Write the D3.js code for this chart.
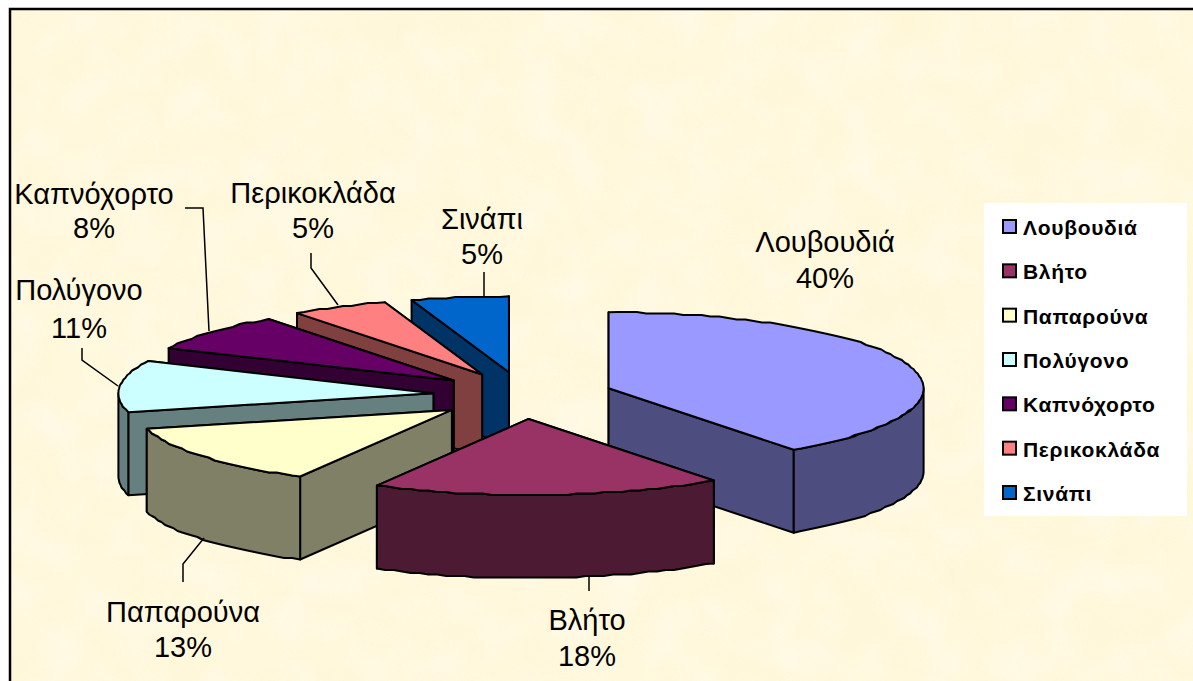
<!DOCTYPE html>
<html>
<head>
<meta charset="utf-8">
<title>Pie</title>
<style>
  html, body { margin: 0; padding: 0; background: #fff; }
  svg { display: block; }
  text { font-family: "Liberation Sans", Arial, sans-serif; fill: #000; }
</style>
<script src="https://cdn.jsdelivr.net/npm/d3@7"></script>
</head>
<body>
<script>
var categories = ["Λουβουδιά", "Βλήτο", "Παπαρούνα", "Πολύγονο", "Καπνόχορτο", "Περικοκλάδα", "Σινάπι"]
var values = [40, 18, 13, 11, 8, 5, 5]
var topColors = ["#9999ff", "#993366", "#ffffcc", "#ccffff", "#660066", "#ff8080", "#0066cc"]
var sideColors = ["#4d4d80", "#4d1a33", "#808066", "#668080", "#330033", "#804040", "#003366"]
// back to front
var drawOrder = [6, 5, 4, 3, 2, 0, 1]

// label position and leader line for each slice
var labelX = [825, 587, 183, 79, 94, 313, 482]
var labelY = [252, 630, 622, 300, 204, 203, 229]
var labelGap = [36, 36, 35, 38, 34, 35, 35]
var leaders = [
    null,
    [[589, 577], [589, 591]],
    [[183, 582], [183, 564], [204, 538]],
    [[82, 348], [82, 360], [118, 386]],
    [[185, 208], [203, 208], [209, 331]],
    [[311, 253], [311, 268], [338, 305]],
    [[484, 272], [484, 296]]
]

var width = 1193, height = 681
var cx = 523, cy = 395.5, rx = 315, ry = 76, depth = 83
var explodeX = 90, explodeY = 23.5

var svg = d3.select("body").append("svg")
    .attr("width", width)
    .attr("height", height)

var defs = svg.append("defs")
var f1 = defs.append("filter").attr("id", "mottle").attr("x", 0).attr("y", 0).attr("width", "100%").attr("height", "100%")
f1.append("feTurbulence").attr("type", "fractalNoise").attr("baseFrequency", 0.018).attr("numOctaves", 3).attr("seed", 7)
f1.append("feColorMatrix").attr("type", "matrix")
    .attr("values", "0 0 0 0 1  0 0 0 0 0.90  0 0 0 0 0.62  2.4 0 0 0 -0.95")
var f2 = defs.append("filter").attr("id", "mottle2").attr("x", 0).attr("y", 0).attr("width", "100%").attr("height", "100%")
f2.append("feTurbulence").attr("type", "fractalNoise").attr("baseFrequency", 0.025).attr("numOctaves", 2).attr("seed", 21)
f2.append("feColorMatrix").attr("type", "matrix")
    .attr("values", "0 0 0 0 1  0 0 0 0 0.98  0 0 0 0 0.92  0 2.6 0 0 -1.0")

svg.append("rect").attr("x", 10).attr("y", 9).attr("width", width - 10).attr("height", height - 9).attr("fill", "#fff8dc")
svg.append("rect").attr("x", 10).attr("y", 9).attr("width", width - 10).attr("height", height - 9).attr("filter", "url(#mottle)").attr("opacity", 0.28)
svg.append("rect").attr("x", 10).attr("y", 9).attr("width", width - 10).attr("height", height - 9).attr("filter", "url(#mottle2)").attr("opacity", 0.35)
svg.append("path")
    .attr("d", "M10," + height + "V9H" + width)
    .attr("fill", "none").attr("stroke", "#000").attr("stroke-width", 2.5)

var pie = d3.pie().sort(null).value(d => d)
var arcs = pie(values)
var line = d3.line()

// point on the tilted circle of a slice, angle clockwise from 12 o'clock
function rimPoint(apex, a, dy) {
    return [apex[0] + rx * Math.sin(a), apex[1] - ry * Math.cos(a) + (dy || 0)]
}
// the original rim is a slightly wobbly polyline, so snap the samples in y
function rimPoints(apex, a0, a1, dy) {
    var n = Math.max(1, Math.ceil(Math.abs(a1 - a0) / 0.03))
    return d3.range(n + 1).map(i => {
        var p = rimPoint(apex, a0 + (a1 - a0) * i / n, dy)
        if (i > 0 && i < n) p[1] = Math.round(p[1] / 1.5) * 1.5
        return p
    })
}

var g = svg.append("g").attr("stroke", "#000").attr("stroke-width", 2).attr("stroke-linejoin", "round")

drawOrder.forEach(i => {
    var d = arcs[i]
    var mid = (d.startAngle + d.endAngle) / 2
    var apex = [cx + explodeX * Math.sin(mid), cy - explodeY * Math.cos(mid)]
    var slice = g.append("g")

    function face(a) {
        var p = rimPoint(apex, a)
        var pts = [apex, p, [p[0], p[1] + depth], [apex[0], apex[1] + depth]]
        slice.append("path").attr("d", line(pts) + "Z").attr("fill", sideColors[i])
    }
    if (d.endAngle <= Math.PI) { face(d.startAngle); face(d.endAngle) }
    else { face(d.endAngle); face(d.startAngle) }

    // only the front half of the wall shows
    var a0 = Math.max(d.startAngle, Math.PI / 2), a1 = Math.min(d.endAngle, 3 * Math.PI / 2)
    if (a1 > a0) {
        var wall = rimPoints(apex, a0, a1, 0).concat(rimPoints(apex, a1, a0, depth))
        slice.append("path").attr("d", line(wall) + "Z").attr("fill", sideColors[i])
    }
    var top = [apex].concat(rimPoints(apex, d.startAngle, d.endAngle, 0))
    slice.append("path").attr("d", line(top) + "Z").attr("fill", topColors[i])
})

// leaders
svg.append("g").selectAll("path")
    .data(leaders.filter(d => d))
    .enter().append("path")
    .attr("d", d => line(d))
    .attr("fill", "none")
    .attr("stroke", "#000")
    .attr("stroke-width", 1.5)

// data labels
categories.forEach((c, i) => {
    var t = svg.append("text")
        .attr("x", labelX[i])
        .attr("y", labelY[i])
        .attr("text-anchor", "middle")
        .style("font-size", "29px")
    t.append("tspan").attr("x", labelX[i]).text(c)
    t.append("tspan").attr("x", labelX[i]).attr("dy", labelGap[i]).text(values[i] + "%")
})

// legend
var legendY = d3.scalePoint().domain(categories).range([227, 493])
svg.append("rect").attr("x", 984).attr("y", 203).attr("width", 203).attr("height", 313).attr("fill", "#fff")
var legend = svg.append("g").selectAll("g")
    .data(categories)
    .enter().append("g")
    .attr("transform", d => "translate(1002," + legendY(d) + ")")
legend.append("rect")
    .attr("x", 1).attr("y", -7).attr("width", 13).attr("height", 13)
    .attr("fill", (d, i) => topColors[i])
    .attr("stroke", "#000").attr("stroke-width", 2)
legend.append("text")
    .attr("x", 21).attr("y", 8)
    .style("font-size", "21px")
    .style("font-weight", "bold")
    .style("letter-spacing", "0.7px")
    .text(d => d)
</script>
</body>
</html>
